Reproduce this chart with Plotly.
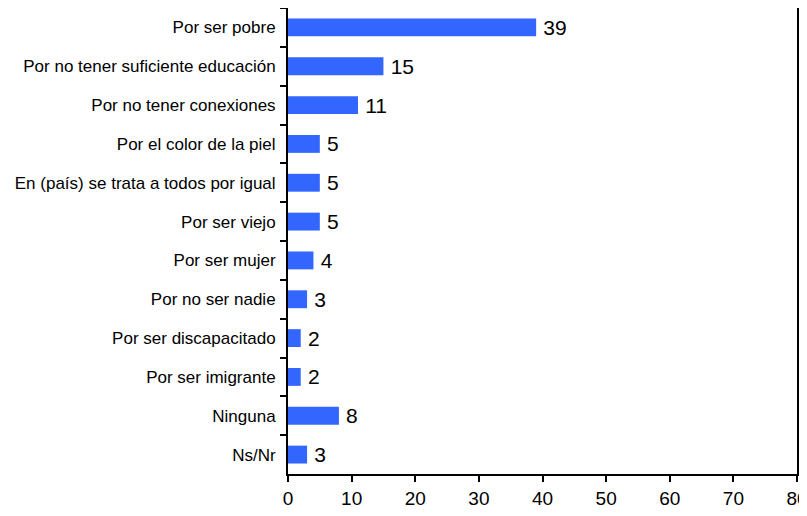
import plotly.graph_objects as go

categories = [
    "Por ser pobre",
    "Por no tener suficiente educación",
    "Por no tener conexiones",
    "Por el color de la piel",
    "En (país) se trata a todos por igual",
    "Por ser viejo",
    "Por ser mujer",
    "Por no ser nadie",
    "Por ser discapacitado",
    "Por ser imigrante",
    "Ninguna",
    "Ns/Nr",
]
values = [39, 15, 11, 5, 5, 5, 4, 3, 2, 2, 8, 3]

fig = go.Figure()
fig.add_trace(go.Bar(
    y=categories, x=values, orientation="h",
    marker=dict(color="#3366FF", line=dict(width=0)),
    text=["\u2009" + str(v) for v in values], textposition="outside",
    textfont=dict(size=21, color="black"), constraintext="none",
    cliponaxis=False,
))

# page body has an 8px default margin, so the figure is 8px smaller
fig.update_layout(
    width=799, height=508,
    margin=dict(l=280, r=10, t=0, b=42),
    paper_bgcolor="white", plot_bgcolor="white",
    font=dict(family="Liberation Sans, Arial", color="black"),
    bargap=0.54, showlegend=False,
)
fig.update_xaxes(
    range=[0, 80], dtick=10, showgrid=False, zeroline=False,
    showline=True, linecolor="black", linewidth=2, mirror=True,
    ticks="outside", ticklen=6, tickwidth=1.5, tickcolor="black",
    tickfont=dict(size=19), automargin=False, ticklabeloverflow="allow",
)
fig.update_yaxes(
    autorange="reversed", showgrid=False,
    showline=True, linecolor="black", linewidth=2, mirror=True,
    ticks="outside", tickson="boundaries", ticklen=6, tickwidth=1.5, tickcolor="black",
    tickfont=dict(size=17), ticklabelstandoff=7, automargin=False,
)

fig.write_html("out.html")
